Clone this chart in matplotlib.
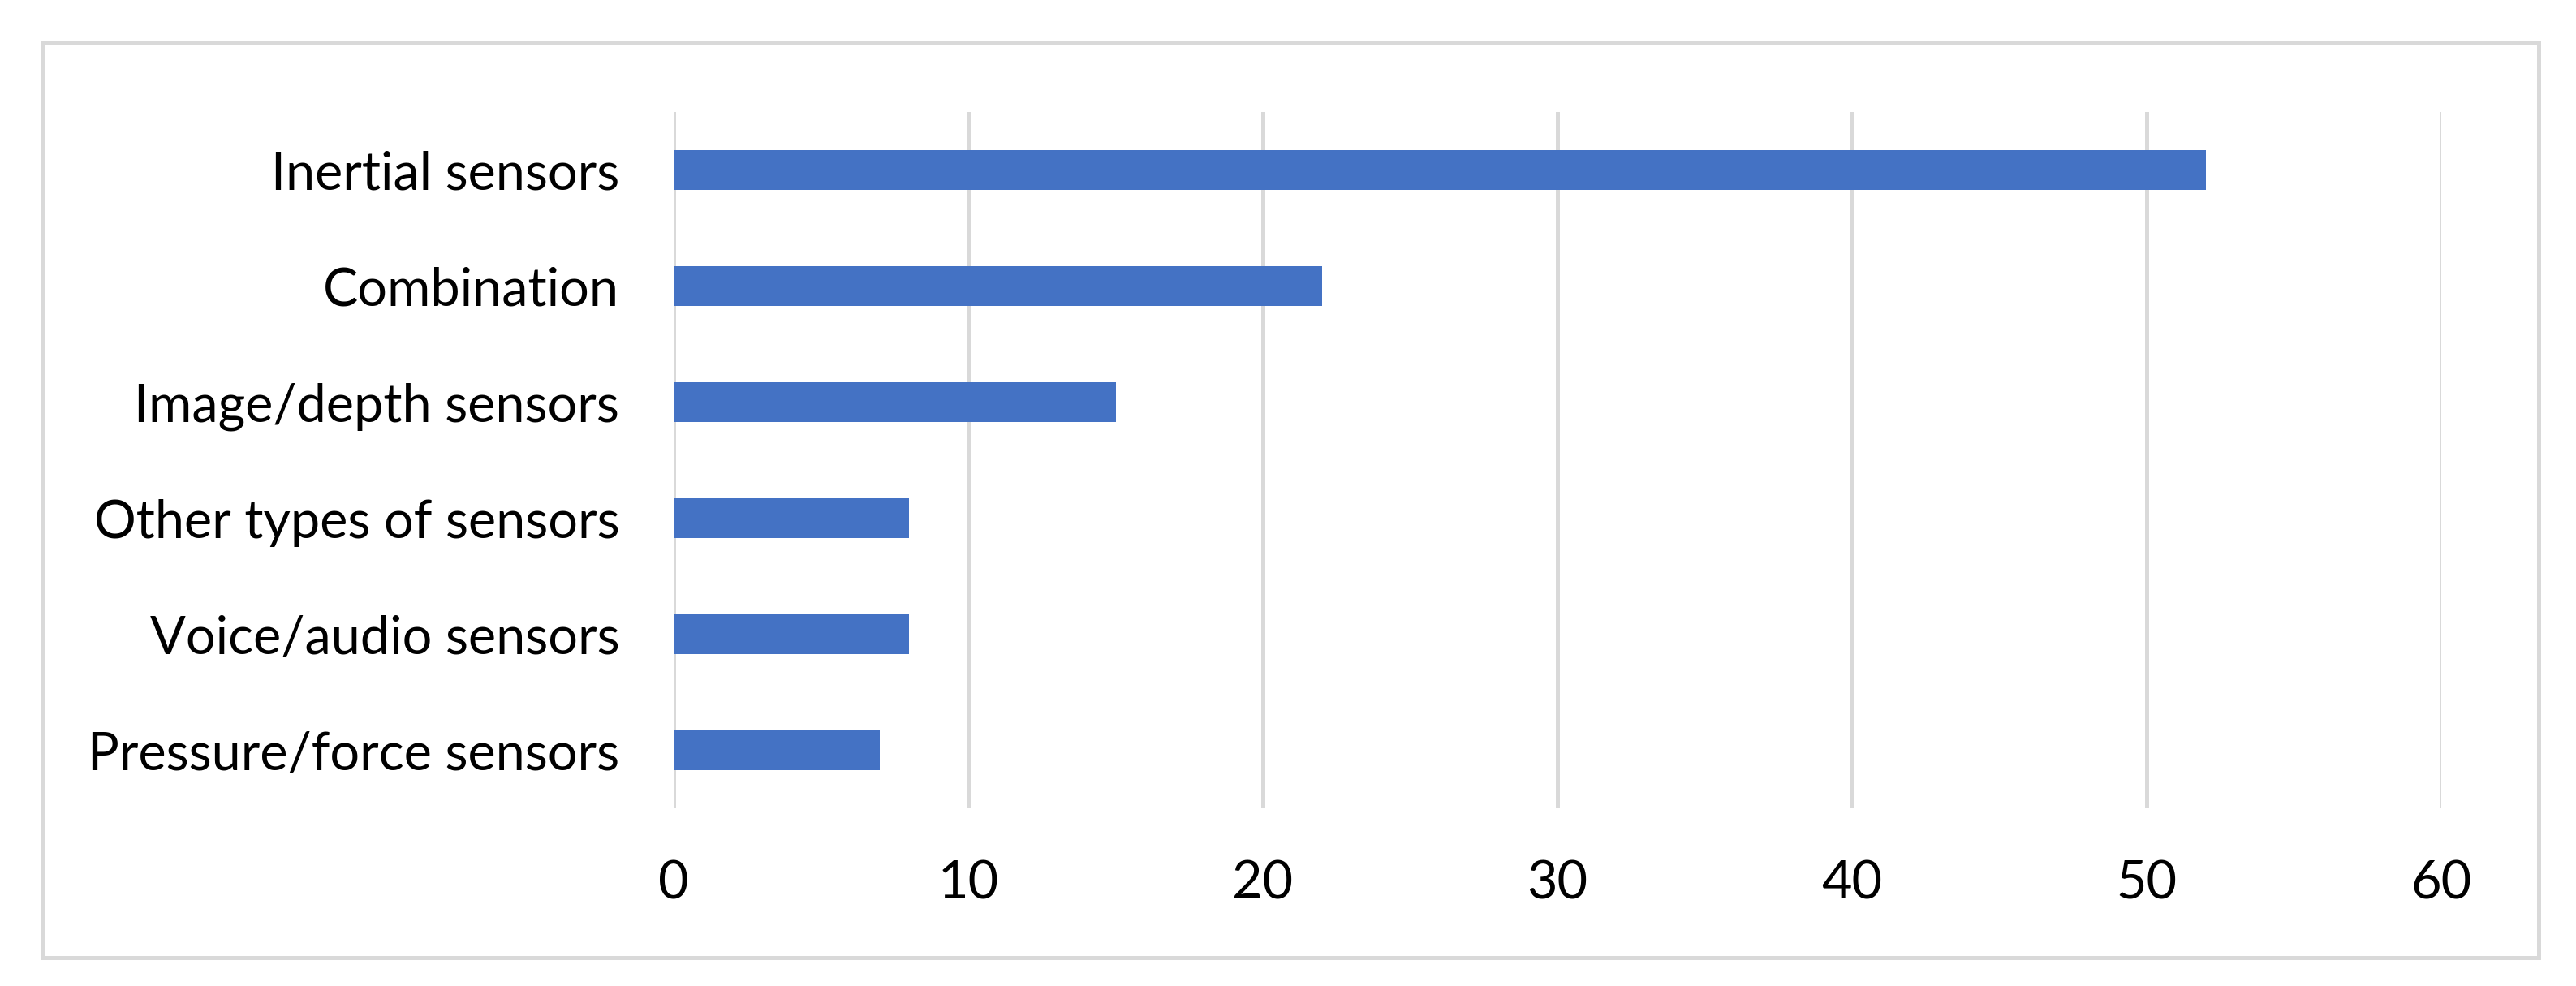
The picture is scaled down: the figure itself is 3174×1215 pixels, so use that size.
import matplotlib
matplotlib.use("Agg")
import matplotlib.pyplot as plt
from matplotlib.patches import Rectangle

categories = ["Inertial sensors", "Combination", "Image/depth sensors",
              "Other types of sensors", "Voice/audio sensors", "Pressure/force sensors"]
values = [52, 22, 15, 8, 8, 7]
xticks = [0, 10, 20, 30, 40, 50, 60]

plt.rcParams['font.family'] = ['Lato', 'DejaVu Sans']

W, H = 3174, 1215
dpi = 200
fig = plt.figure(figsize=(W / dpi, H / dpi), dpi=dpi)
fig.patch.set_facecolor("white")

# outer chart border
fig.add_artist(Rectangle((53 / W, 1 - 1180 / H), (3128 - 53) / W, (1180 - 53) / H,
                         transform=fig.transFigure, fill=False,
                         edgecolor="#D9D9D9", linewidth=1.8))

ax = fig.add_axes([830 / W, 1 - 996 / H, (3008 - 830) / W, (996 - 138) / H])
ypos = list(range(len(categories)))
ax.barh(ypos, values, height=0.345, color="#4472C4", zorder=3)
ax.set_yticks(ypos)
ax.set_yticklabels(categories)
ax.set_ylim(len(categories) - 0.5, -0.5)
ax.set_xlim(0, 60)
ax.set_xticks(xticks)
ax.set_xticklabels([str(t) for t in xticks])
ax.grid(axis="x", color="#D9D9D9", linewidth=1.8, zorder=0)
ax.grid(axis="y", visible=False)
for s in ax.spines.values():
    s.set_visible(False)
ax.tick_params(axis="both", length=0, labelsize=23.3, colors="black")
ax.tick_params(axis="x", pad=23)
ax.tick_params(axis="y", pad=24)

fig.savefig("out.png", dpi=dpi, facecolor="white")
